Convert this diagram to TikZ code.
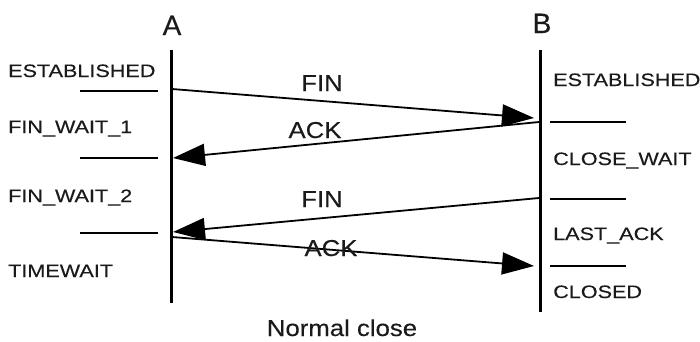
\documentclass[tikz,border=0pt]{standalone}
\usepackage{fontspec}
\setmainfont{Liberation Sans}
\newfontfamily\statefont[FakeStretch=1.2,FakeBold=0.3]{Liberation Sans}
\newfontfamily\msgfont[FakeStretch=1.12,FakeBold=0.3]{Liberation Sans}
\newfontfamily\headfont[FakeBold=0.3]{Liberation Sans}
\usetikzlibrary{arrows.meta}
\definecolor{ink}{HTML}{1A1A1A}
\begin{document}
\begin{tikzpicture}[x=1pt,y=-1pt,
  lifeline/.style={line width=3pt,black},
  tick/.style={line width=1.5pt,black},
  msg/.style={line width=1.8pt,black,-{Triangle[length=32pt,width=22pt]}},
  statel/.style={anchor=base west,inner sep=0pt,text=ink,font=\statefont\fontsize{18}{20}\selectfont},
  msgl/.style={anchor=base,inner sep=0pt,text=ink,font=\msgfont\fontsize{23}{25}\selectfont},
  head/.style={anchor=base,inner sep=0pt,text=ink,font=\headfont\fontsize{28}{30}\selectfont},
  caption/.style={anchor=base,inner sep=0pt,text=ink,font=\msgfont\fontsize{23}{25}\selectfont}]
\useasboundingbox (0,0) rectangle (700,341);
% headers
\node[head] (hA) at (172,35) {A};
\node[head] (hB) at (542,33) {B};
% lifelines
\coordinate (a0) at (171,50); \coordinate (a1) at (171,303);
\coordinate (b0) at (540,50); \coordinate (b1) at (540,312);
\draw[lifeline] (a0) -- (a1);
\draw[lifeline] (b0) -- (b1);
% ticks
\coordinate (la1) at (80,91);  \coordinate (ra1) at (158,91);
\coordinate (la2) at (80,158); \coordinate (ra2) at (158,158);
\coordinate (la3) at (80,233); \coordinate (ra3) at (158,233);
\coordinate (lb1) at (550,122); \coordinate (rb1) at (626,122);
\coordinate (lb2) at (550,199); \coordinate (rb2) at (626,199);
\coordinate (lb3) at (550,266); \coordinate (rb3) at (626,266);
\draw[tick] (la1) -- (ra1);
\draw[tick] (la2) -- (ra2);
\draw[tick] (la3) -- (ra3);
\draw[tick] (lb1) -- (rb1);
\draw[tick] (lb2) -- (rb2);
\draw[tick] (lb3) -- (rb3);
% states
\node[statel] (sa1) at (8,77) {ESTABLISHED};
\node[statel] (sa2) at (8,133) {FIN\_WAIT\_1};
\node[statel] (sa3) at (8,202) {FIN\_WAIT\_2};
\node[statel] (sa4) at (8,277) {TIMEWAIT};
\node[statel] (sb1) at (553,86) {ESTABLISHED};
\node[statel] (sb2) at (553,165) {CLOSE\_WAIT};
\node[statel] (sb3) at (553,240) {LAST\_ACK};
\node[statel] (sb4) at (553,298) {CLOSED};
% message endpoints
\coordinate (m1s) at (172,89);  \coordinate (m1e) at (534,118);
\coordinate (m2s) at (539,122); \coordinate (m2e) at (173,158);
\coordinate (m3s) at (539,198); \coordinate (m3e) at (173,232);
\coordinate (m4s) at (172,237); \coordinate (m4e) at (534,266);
\draw[msg] (m1s) -- (m1e);
\draw[msg] (m2s) -- (m2e);
\draw[msg] (m3s) -- (m3e);
\draw[msg] (m4s) -- (m4e);
\node[msgl] (l1) at (322,91) {FIN};
\node[msgl] (l2) at (315,138) {ACK};
\node[msgl] (l3) at (322,207) {FIN};
\node[msgl] (l4) at (331,256) {ACK};
\node[caption] (cap) at (342,336) {Normal close};
\end{tikzpicture}
\end{document}
